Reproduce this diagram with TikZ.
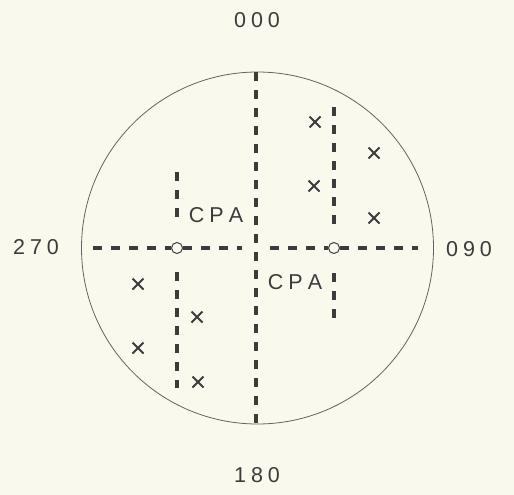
\documentclass[tikz,border=0pt]{standalone}
\usepackage{fontspec}
\setmainfont{Liberation Sans}
\usetikzlibrary{shapes.misc}
\definecolor{bg}{HTML}{F9F9EE}
\definecolor{ink}{HTML}{3C3C3C}
\newcommand{\spc}[3]{#1\hspace{5pt}#2\hspace{5pt}#3}
\begin{document}
\begin{tikzpicture}[x=1pt,y=-1pt,
  lbl/.style={font=\fontsize{21.5}{24}\selectfont, text=ink, inner sep=0pt},
  dline/.style={draw=ink, line width=3.2pt, dash pattern=on 9pt off 9pt},
  crossm/.style={cross out, draw=ink, line width=2pt, minimum size=9pt, inner sep=0pt},
  cpt/.style={circle, draw=ink, line width=1pt, minimum size=11pt, inner sep=0pt}]
\fill[bg] (0,0) rectangle (514,495);
\useasboundingbox (0,0) rectangle (514,495);
% outer circle
\node[circle, draw=ink!80, line width=0.8pt, minimum size=352pt, inner sep=0pt] (rim) at (257.5,248) {};
% labels
\node[lbl] (n000) at (257,20) {\spc000};
\node[lbl] (n180) at (257,475) {\spc180};
\node[lbl] (n270) at (36,247) {\spc270};
\node[lbl] (n090) at (469,249) {\spc090};
\node[lbl] (cpa1) at (216,215) {\spc CPA};
\node[lbl] (cpa2) at (295,282) {\spc CPA};
% small circles
\node[cpt] (o1) at (177,248) {};
\node[cpt] (o2) at (334,248) {};
% coordinates
\coordinate (ctop) at (256,72);
\coordinate (cbot) at (256,424);
\coordinate (hl) at (93,248);
\coordinate (hlm) at (242,248);
\coordinate (hrm) at (270,248);
\coordinate (hr) at (418,248);
\coordinate (l1t) at (177,172);
\coordinate (l1a) at (177,220);
\coordinate (l1b) at (177,272);
\coordinate (l1e) at (177,388);
\coordinate (r1t) at (334,107);
\coordinate (r1a) at (334,227);
\coordinate (r1b) at (334,273);
\coordinate (r1e) at (334,325);
% dashed lines
\draw[dline] (ctop) -- (cbot);
\draw[dline] (hl) -- (o1.west);
\draw[dline] (o1.east) -- (hlm);
\draw[dline] (hrm) -- (o2.west);
\draw[dline] (o2.east) -- (hr);
\draw[dline] (l1t) -- (l1a);
\draw[dline] (l1b) -- (l1e);
\draw[dline] (r1t) -- (r1a);
\draw[dline] (r1b) -- (r1e);
% crosses
\node[crossm] (x1) at (315,122) {};
\node[crossm] (x2) at (374,153) {};
\node[crossm] (x3) at (314,186) {};
\node[crossm] (x4) at (374,218) {};
\node[crossm] (x5) at (138,284) {};
\node[crossm] (x6) at (197,317) {};
\node[crossm] (x7) at (138,348) {};
\node[crossm] (x8) at (198,382) {};
\end{tikzpicture}
\end{document}
